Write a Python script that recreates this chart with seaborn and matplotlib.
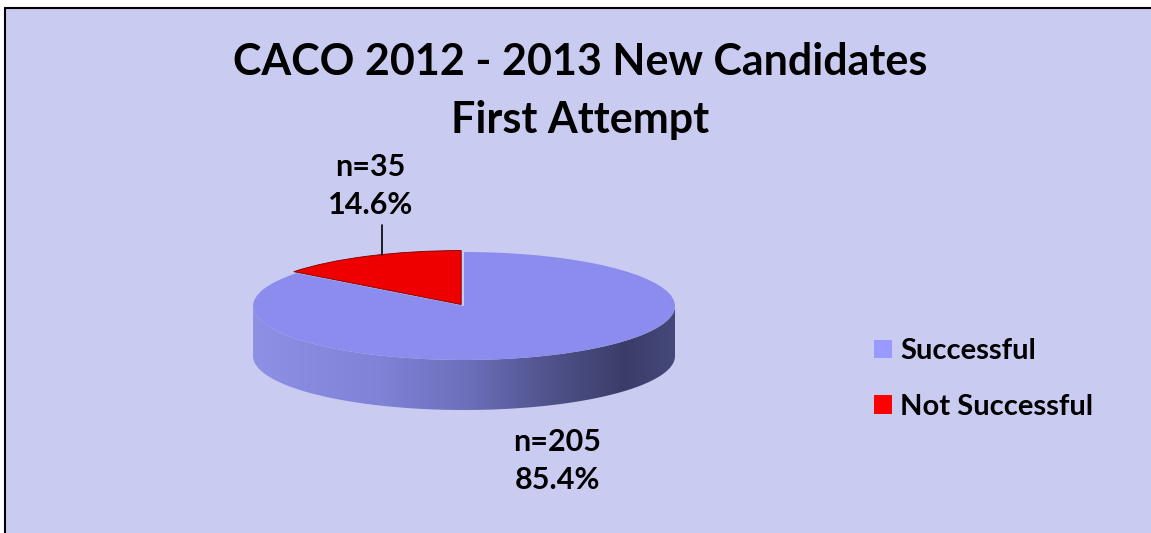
import numpy as np
import matplotlib
matplotlib.use("Agg")
import matplotlib.pyplot as plt
import seaborn as sns
from matplotlib.patches import Polygon, Rectangle, Patch
from matplotlib.lines import Line2D
from matplotlib.colors import LinearSegmentedColormap

# ---- data ----
categories = ["Successful", "Not Successful"]
counts = [205, 35]
percents = [85.4, 14.6]
title_lines = ["CACO 2012 - 2013 New Candidates", "First Attempt"]

# ---- styles ----
top_colors = ["#8B8CEE", "#EE0000"]
legend_colors = ["#9999FF", "#FF0000"]
bg = "#C9CBF1"

sns.set_theme(style="white")
plt.rcParams['font.family'] = ['Lato', 'DejaVu Sans']
plt.rcParams['text.color'] = 'black'

W, H = 1151, 533
fig = plt.figure(figsize=(W / 100, H / 100), dpi=100)
fig.patch.set_facecolor(bg)
# white margin strips (left / top) and the chart-area border
bx, by = 5 / W, (H - 8) / H
fig.add_artist(Rectangle((0, 0), bx, 1, transform=fig.transFigure,
                         facecolor='white', edgecolor='none', zorder=0))
fig.add_artist(Rectangle((0, by), 1, 1 - by, transform=fig.transFigure,
                         facecolor='white', edgecolor='none', zorder=0))
fig.add_artist(Line2D([bx, bx], [0, by], transform=fig.transFigure,
                      color='black', lw=1.5, zorder=1))
fig.add_artist(Line2D([bx, 1], [by, by], transform=fig.transFigure,
                      color='black', lw=1.5, zorder=1))

# pie geometry (pixels)
cx, cy, a, b, depth_px = 464, 227, 211, 54, 50
depth = depth_px / b
xl = (-1.3, 1.3)
yl = (-2.0, 1.5)
ax = fig.add_axes([(cx + xl[0] * a) / W, (cy + yl[0] * b) / H,
                   (xl[1] - xl[0]) * a / W, (yl[1] - yl[0]) * b / H])

explode = [0.0, 0.03]
wedges, _ = ax.pie(counts, colors=top_colors, startangle=90, counterclock=False,
                   explode=explode, radius=1.0,
                   wedgeprops=dict(edgecolor='none', zorder=3))
wedges[1].set_edgecolor('#7a0000')
wedges[1].set_linewidth(0.6)
ax.set_aspect('auto')
ax.axis('off')

# side walls (visible front half, 180..360 deg)
side_cmap = LinearSegmentedColormap.from_list(
    "side", [(0.0, "#8E90E6"), (0.3, "#7F82D6"), (0.5, "#6D70BC"),
             (0.7, "#50538C"), (0.88, "#3B3D68"), (1.0, "#45487A")])
for w in wedges:
    t1, t2 = w.theta1, w.theta2
    for off in (0, 360, -360):
        lo, hi = max(t1, 180 + off), min(t2, 360 + off)
        if hi <= lo:
            continue
        th = np.radians(np.linspace(lo, hi, 200))
        ox, oy = w.center
        top = np.column_stack([ox + np.cos(th), oy + np.sin(th)])
        bot = np.column_stack([ox + np.cos(th[::-1]), oy + np.sin(th[::-1]) - depth])
        poly = Polygon(np.vstack([top, bot]), closed=True, facecolor='none',
                       edgecolor='none', zorder=2)
        ax.add_patch(poly)
        grad = np.linspace(0, 1, 512).reshape(1, -1)
        im = ax.imshow(grad, cmap=side_cmap, aspect='auto',
                       extent=(-1, 1, -1 - depth, 0.05), zorder=2)
        im.set_clip_path(poly)
ax.set_xlim(*xl)
ax.set_ylim(*yl)

# labels
label_y = [-2.87, 2.22]
for i, w in enumerate(wedges):
    mid = np.radians((w.theta1 + w.theta2) / 2)
    lx = np.cos(mid)
    ax.text(lx, label_y[i], f"n={counts[i]}\n{percents[i]}%", ha='center', va='center',
            fontsize=22, fontweight='bold', linespacing=1.43, clip_on=False, zorder=5)
# leader line for the small slice
w = wedges[1]
mid = np.radians((w.theta1 + w.theta2) / 2)
xm = 0.85 * np.cos(mid) + w.center[0]
ym = np.sqrt(1 - (xm - w.center[0]) ** 2) + w.center[1]
ax.plot([xm, xm], [ym, 1.5], color='black', lw=1.2, clip_on=False, zorder=5)

# title
fig.text(580 / W, (H - 91) / H, "\n".join(title_lines), ha='center', va='center',
         fontsize=31, fontweight='bold', linespacing=1.55)

# legend
handles = [Patch(facecolor=c, edgecolor='none', label=l)
           for c, l in zip(legend_colors, categories)]
fig.legend(handles=handles, loc='center left', bbox_to_anchor=(848 / W, (H - 379) / H),
           frameon=False, prop=dict(size=21, weight='bold'), handlelength=0.6,
           handleheight=0.6, handletextpad=0.3, labelspacing=1.0)

fig.savefig("out.png", dpi=100, facecolor=bg)
